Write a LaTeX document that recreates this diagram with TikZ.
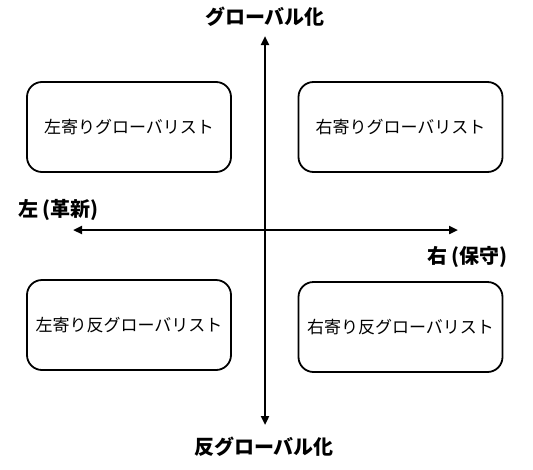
\documentclass[tikz,border=0pt]{standalone}
\usepackage{fontspec}
\setmainfont{Noto Sans CJK JP}
\usetikzlibrary{arrows.meta}
\begin{document}
\begin{tikzpicture}[x=1pt,y=-1pt,
  quad/.style={draw=black,line width=1.8pt,rounded corners=15pt,minimum width=204pt,minimum height=90pt,inner sep=0pt,font=\fontsize{17}{19}\selectfont},
  axis/.style={line width=2.6pt,-{Triangle[length=9pt,width=8pt]}},
  lab/.style={font=\fontsize{20}{22}\selectfont\bfseries,inner sep=0pt}]
\useasboundingbox (0,0) rectangle (533,469);
\coordinate (top) at (265,36);
\coordinate (bot) at (265,425);
\coordinate (lft) at (73,230);
\coordinate (rgt) at (458,230);
\coordinate (mid) at (265,230);
\draw[axis] (mid) -- (top);
\draw[axis] (mid) -- (bot);
\draw[axis] (mid) -- (lft);
\draw[axis] (mid) -- (rgt);
\node[quad] (tl) at (129,127) {左寄りグローバリスト};
\node[quad] (tr) at (400.5,127) {右寄りグローバリスト};
\node[quad] (bl) at (129,325) {左寄り反グローバリスト};
\node[quad] (br) at (400.5,327) {右寄り反グローバリスト};
\node[lab] (ltop) at (265,17) {グローバル化};
\node[lab] (lbot) at (264,447) {反グローバル化};
\node[lab,anchor=west] (lleft) at (18,210) {左\hspace{4pt}(革新)};
\node[lab,anchor=west] (lright) at (427,257) {右\hspace{4pt}(保守)};
\end{tikzpicture}
\end{document}
